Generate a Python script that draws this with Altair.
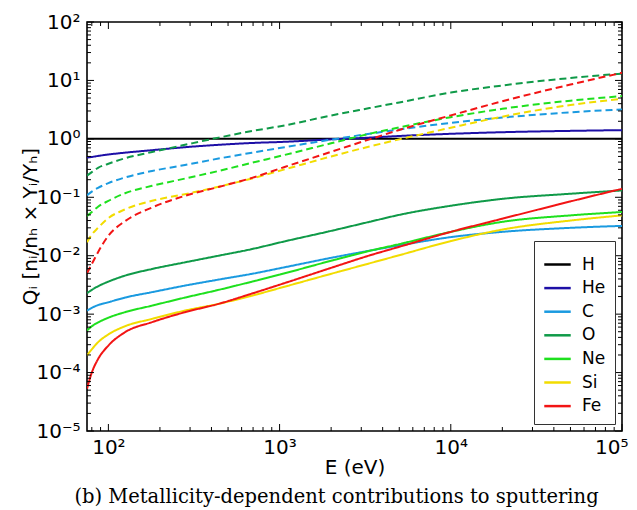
import altair as alt
import pandas as pd

# Energy grid (eV)
E = [75, 80, 87, 100, 125, 180, 280, 440, 690, 1070, 2000, 3350, 5000, 10000, 20000, 50000, 100000]

ELEMENTS = ["H", "He", "C", "O", "Ne", "Si", "Fe"]
COLORS = ["#000000", "#1d0fa6", "#1a9ae0", "#0f9a48", "#1ee01e", "#f2dc00", "#f21414"]

# solid curves
H_S = [1.0, 1.0, 1.0, 1.0, 1.0, 1.0, 1.0, 1.0, 1.0, 1.0, 1.0, 1.0, 1.0, 1.0, 1.0, 1.0, 1.0]
HE_S = [0.478, 0.49, 0.51, 0.54, 0.58, 0.64, 0.72, 0.79, 0.85, 0.89, 0.98, 1.05, 1.12, 1.22, 1.30, 1.37, 1.41]
C_S = [0.00115, 0.00128, 0.00143, 0.0016, 0.00192, 0.00238, 0.00308, 0.0039, 0.0049, 0.00634, 0.0092, 0.0122, 0.0150, 0.0208, 0.0256, 0.030, 0.0324]
O_S = [0.00228, 0.0026, 0.003, 0.0036, 0.00456, 0.00593, 0.0077, 0.010, 0.013, 0.0176, 0.0266, 0.038, 0.050, 0.0716, 0.094, 0.115, 0.131]
NE_S = [0.000525, 0.00062, 0.00072, 0.00087, 0.00108, 0.0014, 0.00192, 0.0026, 0.0036, 0.0050, 0.0082, 0.0121, 0.0158, 0.0256, 0.038, 0.049, 0.056]
SI_S = [0.000197, 0.00025, 0.00033, 0.00045, 0.00062, 0.00083, 0.00115, 0.0015, 0.00207, 0.00295, 0.0049, 0.0074, 0.0102, 0.0178, 0.028, 0.040, 0.049]
FE_S = [0.0000531, 0.0001, 0.00017, 0.00029, 0.00049, 0.00073, 0.00108, 0.0015, 0.00225, 0.0034, 0.0062, 0.0101, 0.0142, 0.0256, 0.043, 0.085, 0.14]

# dashed curves
C_D = [0.108, 0.125, 0.145, 0.175, 0.218, 0.282, 0.357, 0.46, 0.58, 0.72, 0.97, 1.22, 1.45, 1.88, 2.31, 2.85, 3.19]
O_D = [0.235, 0.27, 0.32, 0.375, 0.465, 0.595, 0.79, 1.05, 1.36, 1.70, 2.51, 3.36, 4.2, 6.2, 8.2, 11.0, 13.1]
NE_D = [0.048, 0.056, 0.069, 0.087, 0.117, 0.157, 0.209, 0.282, 0.39, 0.53, 0.84, 1.22, 1.57, 2.35, 3.27, 4.5, 5.4]
SI_D = [0.017, 0.023, 0.030, 0.044, 0.062, 0.087, 0.113, 0.152, 0.21, 0.30, 0.50, 0.74, 0.98, 1.55, 2.4, 3.8, 4.85]
FE_D = [0.005, 0.0072, 0.0115, 0.022, 0.039, 0.067, 0.106, 0.15, 0.215, 0.33, 0.60, 0.98, 1.42, 2.52, 4.4, 8.5, 13.5]

X_MAJOR = [100, 1000, 10000, 100000]
Y_MAJOR = [1e-5, 1e-4, 1e-3, 1e-2, 1e-1, 1, 10, 100]
X_MINOR = [80, 90] + [k * 10 ** m for m in (2, 3, 4) for k in range(2, 10)]
Y_MINOR = [k * 10.0 ** m for m in range(-5, 2) for k in range(2, 10)]

series = [
    ("H", "solid", H_S), ("He", "solid", HE_S), ("C", "solid", C_S), ("O", "solid", O_S),
    ("Ne", "solid", NE_S), ("Si", "solid", SI_S), ("Fe", "solid", FE_S),
    ("C", "dashed", C_D), ("O", "dashed", O_D), ("Ne", "dashed", NE_D),
    ("Si", "dashed", SI_D), ("Fe", "dashed", FE_D),
]
rows = []
for i, (el, kind, vals) in enumerate(series):
    for e, q in zip(E, vals):
        rows.append({"E": e, "Q": q, "element": el, "kind": kind, "series": f"{i:02d}_{el}_{kind}"})
df = pd.DataFrame(rows)

W, H = 535, 409
FONT = "DejaVu Sans"
xscale = alt.Scale(type="log", domain=[75, 100000], nice=False)
yscale = alt.Scale(type="log", domain=[1e-5, 100], nice=False)

SUP = ("'10' + (round(log(datum.value)/LN10) < 0 ? '⁻' : '') + "
       "substring('⁰¹²³⁴⁵⁶⁷⁸⁹', abs(round(log(datum.value)/LN10)), abs(round(log(datum.value)/LN10)) + 1)")

XAXIS = alt.Axis(
    values=X_MAJOR, labelExpr=SUP, ticks=False, domain=False, grid=False,
    labelFlush=True, labelFlushOffset=6,
    labelFont=FONT, labelFontSize=20, labelColor="black", labelPadding=6,
    title="E (eV)", titleFont=FONT, titleFontSize=20, titleFontWeight="normal",
    titleColor="black", titleY=36, titleBaseline="middle")
YAXIS = alt.Axis(
    values=Y_MAJOR, labelExpr=SUP, ticks=False, domain=False, grid=False, labelFlush=False,
    labelFont=FONT, labelFontSize=20, labelColor="black", labelPadding=7,
    title="Qᵢ [nᵢ/nₕ × Yᵢ/Yₕ]", titleFont=FONT, titleFontSize=20,
    titleFontWeight="normal", titleColor="black", titleX=-57, titleY=204,
    titleBaseline="middle")

lines = alt.Chart(df).mark_line(strokeWidth=2, interpolate="monotone", clip=True).encode(
    x=alt.X("E:Q", scale=xscale, axis=XAXIS),
    y=alt.Y("Q:Q", scale=yscale, axis=YAXIS),
    color=alt.Color("element:N", scale=alt.Scale(domain=ELEMENTS, range=COLORS),
                    legend=alt.Legend(title=None, orient="bottom-right", offset=7,
                                      symbolType="stroke", symbolStrokeWidth=2.5,
                                      symbolSize=700, labelFont=FONT, labelFontSize=17,
                                      labelColor="black", labelOffset=10, rowPadding=0.6,
                                      labelExpr="datum.label + '\u2003\u2003\u2003\u2002'",
                                      padding=9, fillColor="white", strokeColor="#333333")),
    strokeDash=alt.StrokeDash("kind:N", scale=alt.Scale(domain=["solid", "dashed"],
                                                        range=[[1, 0], [7, 4]]), legend=None),
    detail="series:N",
)


def xticks(vals, length, top):
    y0, y1 = (0, length) if top else (H, H - length)
    return alt.Chart(pd.DataFrame({"E": vals})).mark_rule(color="black", strokeWidth=1).encode(
        x=alt.X("E:Q", scale=xscale, axis=XAXIS),
        y=alt.value(y0), y2=alt.value(y1))


def yticks(vals, length, right):
    x0, x1 = (W, W - length) if right else (0, length)
    return alt.Chart(pd.DataFrame({"Q": vals})).mark_rule(color="black", strokeWidth=1).encode(
        y=alt.Y("Q:Q", scale=yscale, axis=YAXIS),
        x=alt.value(x0), x2=alt.value(x1))


chart = alt.layer(
    lines,
    xticks(X_MAJOR, 7, False), xticks(X_MINOR, 4, False),
    xticks(X_MAJOR, 7, True), xticks(X_MINOR, 4, True),
    yticks(Y_MAJOR, 7, False), yticks(Y_MINOR, 4, False),
    yticks(Y_MAJOR, 7, True), yticks(Y_MINOR, 4, True),
).properties(
    width=W, height=H,
    autosize=alt.AutoSizeParams(type="none"),
    padding={"left": 79, "top": 14, "right": 7, "bottom": 78},
    title=alt.TitleParams("(b) Metallicity-dependent contributions to sputtering",
                          orient="bottom", anchor="middle", font="DejaVu Serif",
                          fontSize=19.5, fontWeight="normal", color="black", offset=11, dx=-18),
).configure_view(stroke="black", strokeWidth=1.6)

chart.save("out.html", embed_options={"renderer": "svg", "actions": False})
